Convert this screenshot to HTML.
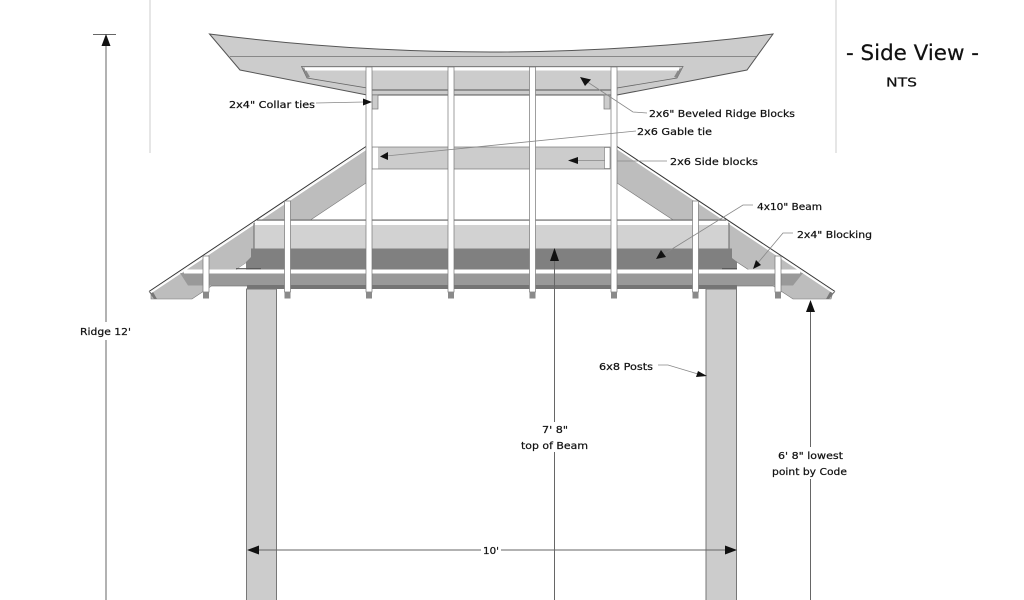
<!DOCTYPE html>
<html><head><meta charset="utf-8"><style>
html,body{margin:0;padding:0;background:#fff;width:1024px;height:600px;overflow:hidden}
svg{display:block;filter:blur(.35px)}
text{font-family:"DejaVu Sans","Liberation Sans",sans-serif;font-size:10px;fill:#111;stroke:#111;stroke-width:.22;dominant-baseline:middle}
</style></head><body>
<svg width="1024" height="600" viewBox="0 0 1024 600" xmlns="http://www.w3.org/2000/svg">
<rect width="1024" height="600" fill="#fff"/>
<!-- view edge lines -->
<path d="M150 0V153M836 0V153" stroke="#ccc" stroke-width="1" fill="none"/>
<!-- top roof -->
<path d="M209.500 34Q491 70 773 34L747 70L617 95H367L240 70Z" fill="#ccc" stroke="#555" stroke-width="1"/>
<path d="M230 56.500H756" stroke="#888" stroke-width="1"/>
<!-- ridge block -->
<path d="M301.500 66.500H683L677 78L617 88V90H367V88L307 78Z" fill="#ccc" stroke="#666" stroke-width=".8"/>
<path d="M302 67L307 78L310 77L306 70Z M683 67L677 78L674 77L678 70Z" fill="#888"/>
<rect x="305" y="67.500" width="374" height="3" fill="#fff"/>
<path d="M367 90H617" stroke="#555" stroke-width="1"/>
<!-- collar -->
<rect x="372" y="95" width="6" height="14" fill="#ccc" stroke="#777" stroke-width=".7"/>
<rect x="604" y="95" width="6" height="14" fill="#ccc" stroke="#777" stroke-width=".7"/>
<!-- rafters -->
<path d="M367 148L151 292L151 299H192L366 183Z" fill="#bdbdbd" stroke="#777" stroke-width=".6"/>
<path d="M616 148L833 292L831 299H793L617 183Z" fill="#bdbdbd" stroke="#777" stroke-width=".6"/>
<path d="M149 292L154 299H157L153 292Z" fill="#777"/>
<path d="M835 292L829 299H826L830 292Z" fill="#777"/>
<path d="M149 291.500L366 146.500" stroke="#333" stroke-width="1" fill="none"/>
<path d="M151 292.500L367 148.500" stroke="#fff" stroke-width="1.600" fill="none"/>
<path d="M835 291.500L617 146.500" stroke="#333" stroke-width="1" fill="none"/>
<path d="M833 292.500L617 148.500" stroke="#fff" stroke-width="1.600" fill="none"/>
<!-- gable block -->
<rect x="372" y="147" width="238" height="22" fill="#ccc" stroke="#777" stroke-width=".7"/>
<rect x="372.500" y="147.500" width="5.500" height="21" fill="#fff"/>
<rect x="604.500" y="147.500" width="5.500" height="21" fill="#fff" stroke="#777" stroke-width=".6"/>
<!-- beam -->
<path d="M257 220H726L729 222V249H254V222Z" fill="#d2d2d2"/>
<path d="M257 220H726M729 223V249M254 223V249" fill="none" stroke="#666" stroke-width="1"/>
<path d="M255 221H728V225H255Z" fill="#fff"/>
<path d="M251 248.500H732V258L737 262V270H246V262L251 257Z" fill="#808080"/>
<path d="M237 269L246 263V269ZM746 269L737 263V269Z" fill="#fff"/>
<path d="M236 268.700H261M722 268.700H737" stroke="#555" stroke-width="1.200"/>
<!-- fascia -->
<path d="M180 273H803L793 285.500H188Z" fill="#999"/>
<rect x="184" y="269.500" width="616" height="4" fill="#fff"/>
<path d="M211 285.800H773" stroke="#888" stroke-width="1.200"/>
<rect x="247" y="285" width="490" height="4" fill="#757575"/>
<!-- posts -->
<rect x="246.500" y="289" width="30" height="312" fill="#ccc" stroke="#777" stroke-width="1"/>
<rect x="706" y="289" width="30.500" height="312" fill="#ccc" stroke="#777" stroke-width="1"/>
<!-- vertical strips -->
<g fill="#fff" stroke="#777" stroke-width=".7">
<rect x="366" y="67" width="6" height="225"/>
<rect x="448" y="67" width="6" height="225"/>
<rect x="529.500" y="67" width="6" height="225"/>
<rect x="611" y="67" width="6" height="225"/>
<rect x="284.500" y="201" width="6" height="91"/>
<rect x="692.500" y="201" width="6" height="91"/>
<rect x="203" y="256" width="6" height="36"/>
<rect x="775" y="256" width="6" height="36"/>
</g>
<g fill="#8a8a8a">
<rect x="366" y="292" width="6" height="6.500"/>
<rect x="448" y="292" width="6" height="6.500"/>
<rect x="529.500" y="292" width="6" height="6.500"/>
<rect x="611" y="292" width="6" height="6.500"/>
<rect x="284.500" y="292" width="6" height="6.500"/>
<rect x="692.500" y="292" width="6" height="6.500"/>
<rect x="203" y="292" width="6" height="6.500"/>
<rect x="775" y="292" width="6" height="6.500"/>
</g>
<!-- dimension lines -->
<path d="M93 34.500H116M106 35V322M106 340V600M554.500 256V422M554.500 452V600M810.500 308V447M810.500 479V600M255 550H481M501 550H728" stroke="#666" stroke-width="1" fill="none"/>
<!-- leaders -->
<path d="M316 103L364 102M647 113L633 112L586 81M636 131L386 156M578 160.500H605M617 161H667M753 205H743L664 254M793 233H783L757 264M658 365H668L698 374" stroke="#888" stroke-width=".8" fill="none"/>
<!-- arrowheads -->
<g fill="#111">
<path d="M372 102L363 98.500V105.500Z"/>
<path d="M580 77L591 79.500L585 86Z"/>
<path d="M380 156.500L388 152V160Z"/>
<path d="M568 160.500L578 157V164Z"/>
<path d="M656 259L661 250L666 257Z"/>
<path d="M753 269L756 260L761 265Z"/>
<path d="M707 376L698 371L696 377Z"/>
<path d="M106 34L101.500 46H110.500Z"/>
<path d="M554.500 248L550 261H559Z"/>
<path d="M810.500 300L806 312H815Z"/>
<path d="M247 550L259 545.500V554.500Z"/>
<path d="M737 550L725 545.500V554.500Z"/>
</g>
<!-- labels -->
<text x="229" y="105" textLength="86" lengthAdjust="spacingAndGlyphs">2x4" Collar ties</text>
<text x="649" y="114" textLength="146" lengthAdjust="spacingAndGlyphs">2x6" Beveled Ridge Blocks</text>
<text x="637" y="132" textLength="75" lengthAdjust="spacingAndGlyphs">2x6 Gable tie</text>
<text x="670" y="162" textLength="88" lengthAdjust="spacingAndGlyphs">2x6 Side blocks</text>
<text x="757" y="207" textLength="65" lengthAdjust="spacingAndGlyphs">4x10" Beam</text>
<text x="797" y="235" textLength="75" lengthAdjust="spacingAndGlyphs">2x4" Blocking</text>
<text x="599" y="367" textLength="54" lengthAdjust="spacingAndGlyphs">6x8 Posts</text>
<text x="80" y="332" textLength="51" lengthAdjust="spacingAndGlyphs">Ridge 12'</text>
<text x="542" y="430" textLength="26" lengthAdjust="spacingAndGlyphs">7' 8"</text>
<text x="521" y="446" textLength="67" lengthAdjust="spacingAndGlyphs">top of Beam</text>
<text x="778" y="456" textLength="65" lengthAdjust="spacingAndGlyphs">6' 8" lowest</text>
<text x="772" y="472" textLength="75" lengthAdjust="spacingAndGlyphs">point by Code</text>
<text x="483" y="551" textLength="16" lengthAdjust="spacingAndGlyphs">10'</text>
<text x="846" y="54" textLength="133" lengthAdjust="spacingAndGlyphs" style="font-size:21px">- Side View -</text>
<text x="886" y="83" textLength="31" lengthAdjust="spacingAndGlyphs" style="font-size:12px">NTS</text>
</svg>
</body></html>
